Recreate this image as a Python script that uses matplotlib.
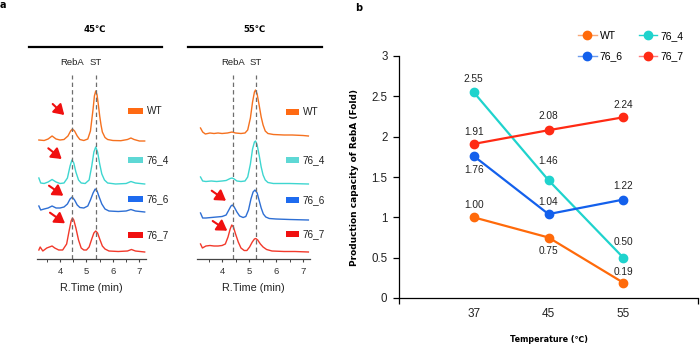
import matplotlib
matplotlib.use('Agg')
import matplotlib.pyplot as plt
from matplotlib.lines import Line2D
from matplotlib.patches import Rectangle

plt.rcParams['font.family'] = ['Liberation Sans', 'DejaVu Sans']

# ---------------- Panel b data ----------------
temps = ['37', '45', '55']
wt_fold = [1.00, 0.75, 0.19]
m76_4_fold = [2.55, 1.46, 0.50]
m76_6_fold = [1.76, 1.04, 1.22]
m76_7_fold = [1.91, 2.08, 2.24]

# ---------------- Panel a data (chromatograms, relative signal) ----------------
# 45 C
t_wt_45 = [3.2, 3.4, 3.55, 3.7, 3.85, 4.0, 4.15, 4.3, 4.4, 4.47, 4.55, 4.65, 4.75, 4.9, 5.05, 5.15,
           5.25, 5.3, 5.35, 5.4, 5.45, 5.5, 5.55, 5.6, 5.7, 5.8, 6.0, 6.3, 6.55, 6.68, 6.8, 7.0, 7.2]
s_wt_45 = [1, 0.5, 2, 5, 2, 1, 1.5, 5, 10, 12, 10, 5, 1.5, 0.5, 2, 10,
           32, 45, 50, 46, 36, 25, 16, 9, 3.5, 1.5, 0.5, 0.3, 1.5, 3, 1.5, 0, 0]
t_76_4_45 = [3.2, 3.27, 3.4, 3.55, 3.7, 3.85, 4.0, 4.15, 4.28, 4.38, 4.45, 4.52, 4.6, 4.7, 4.8, 4.95,
             5.1, 5.2, 5.28, 5.35, 5.42, 5.5, 5.58, 5.68, 5.8, 6.1, 6.5, 6.68, 6.85, 7.2]
s_76_4_45 = [6, 1, 0.5, 2, 4.5, 2, 0.5, 1, 6, 18, 24, 21, 12, 4, 1, 0.5,
             4, 18, 32, 37, 32, 20, 10, 4, 1, 0, 0.5, 2.5, 1, 0]
t_76_6_45 = [3.2, 3.27, 3.4, 3.55, 3.7, 3.85, 4.0, 4.15, 4.28, 4.38, 4.46, 4.55, 4.65, 4.75, 4.9, 5.05,
             5.15, 5.25, 5.33, 5.4, 5.48, 5.58, 5.7, 5.85, 6.2, 6.5, 6.68, 6.85, 7.2]
s_76_6_45 = [6, 2, 3, 4, 6, 4, 4, 5, 8, 13, 15, 12, 7, 4.5, 4, 6,
             12, 19, 23, 21, 15, 8, 3, 1, 0.5, 1, 2.5, 1, 0]
t_76_7_45 = [3.2, 3.25, 3.35, 3.5, 3.7, 3.8, 3.95, 4.1, 4.25, 4.35, 4.42, 4.47, 4.52, 4.6, 4.7, 4.8,
             4.9, 5.0, 5.1, 5.2, 5.28, 5.35, 5.42, 5.5, 5.6, 5.7, 5.85, 6.2, 6.55, 6.7, 6.85, 7.2]
s_76_7_45 = [2, 5, 1, 4, 6, 4, 2, 2, 8, 22, 31, 34, 32, 24, 12, 4,
             2, 2, 5, 13, 19, 21, 19, 13, 6, 3, 1, 0.5, 1, 2.5, 1, 0]
# 55 C
t_wt_55 = [3.2, 3.28, 3.38, 3.55, 3.7, 3.85, 4.0, 4.2, 4.37, 4.5, 4.7, 4.85, 4.95, 5.05, 5.13, 5.2,
           5.24, 5.3, 5.38, 5.45, 5.52, 5.6, 5.7, 5.9, 6.3, 6.6, 7.0, 7.2]
s_wt_55 = [8, 4, 2, 3, 2.5, 3, 2.5, 3, 4, 3, 2.5, 3, 6, 18, 34, 44,
           46, 42, 30, 19, 11, 5, 2.5, 1.5, 1, 1, 0.5, 0]
t_76_4_55 = [3.2, 3.28, 3.4, 3.6, 3.8, 4.0, 4.15, 4.3, 4.37, 4.45, 4.55, 4.7, 4.85, 4.95, 5.05, 5.13,
             5.2, 5.24, 5.3, 5.38, 5.45, 5.52, 5.6, 5.7, 5.9, 6.5, 7.2]
s_76_4_55 = [7, 3, 2.5, 3, 2.5, 3, 3.5, 5.5, 6, 5, 3, 2.5, 3, 7, 20, 35,
             42, 43, 39, 28, 17, 9, 4, 1.5, 0.5, 0.5, 0]
t_76_6_55 = [3.2, 3.28, 3.4, 3.6, 3.8, 4.0, 4.15, 4.25, 4.33, 4.38, 4.45, 4.55, 4.65, 4.78, 4.88, 4.98,
             5.07, 5.15, 5.22, 5.3, 5.38, 5.45, 5.53, 5.62, 5.75, 6.0, 6.5, 7.2]
s_76_6_55 = [7, 2, 2, 2.5, 3, 3.5, 5, 10, 14, 15, 13, 8, 4, 2.5, 3.5, 10,
             21, 28, 30, 27, 19, 12, 6, 3, 1.5, 1, 0.5, 0]
t_76_7_55 = [3.2, 3.27, 3.4, 3.55, 3.7, 3.85, 4.0, 4.12, 4.22, 4.3, 4.36, 4.42, 4.5, 4.6, 4.7, 4.82,
             4.92, 5.02, 5.12, 5.2, 5.25, 5.32, 5.42, 5.52, 5.65, 5.85, 6.3, 6.7, 7.2]
s_76_7_55 = [8, 4, 6, 6.5, 6, 6, 6.5, 8, 15, 23, 27, 25, 18, 10, 4, 1.5,
             1.5, 5, 10, 13, 13.5, 12, 8, 5, 2.5, 1, 0.5, 0.5, 0]

rt_45 = [4.45, 5.35]   # RebA, ST retention times
rt_55 = [4.41, 5.26]
peak_names = ['RebA', 'ST']
series_names = ['WT', '76_4', '76_6', '76_7']

# ---------------- styling ----------------
W, H = 700, 348
fig = plt.figure(figsize=(7, 3.48), dpi=100)

def fx(px):
    return px / W

def fy(py):
    return 1 - py / H

trace_cols = ['#F5711F', '#3ED6D0', '#2E6FD4', '#F2392B']
rect_cols = ['#FF6A13', '#5ED8D5', '#1E6BEF', '#F01010']
b_cols = ['#FF6A0A', '#1FD3CD', '#1360EC', '#FF2A14']
b_leg_line = ['#F8A878', '#1FD3CD', '#6E9CEC', '#FF7A7A']

def panel_a(left_px, right_px, xlim, traces, offsets, rts, rect_x, text_x, rect_y, arrows):
    ax = fig.add_axes([fx(left_px), fy(259), fx(right_px - left_px), 199 / H])
    ax.set_xlim(*xlim)
    ax.set_ylim(0, 199)
    for (t, s), off, c in zip(traces, offsets, trace_cols):
        ax.plot(t, [off + v for v in s], color=c, lw=1.0, solid_joinstyle='round')
    for rt, name in zip(rts, peak_names):
        ax.axvline(rt, ymin=0, ymax=184 / 199, color='#6E6E6E', ls=(0, (3.5, 2.5)), lw=0.9)
        ax.text(rt, 196, name, ha='center', va='center', fontsize=6.8, color='#222222')
    for sp in ['left', 'right', 'top']:
        ax.spines[sp].set_visible(False)
    ax.spines['bottom'].set_color('#444444')
    ax.spines['bottom'].set_linewidth(0.9)
    ax.set_yticks([])
    ax.set_xticks([4, 5, 6, 7])
    ax.set_xticks([3.5, 4.5, 5.5, 6.5], minor=True)
    ax.tick_params(axis='x', which='major', length=2.5, width=0.8, color='#444444',
                   labelsize=6.8, labelcolor='#333333', pad=3.5)
    ax.tick_params(axis='x', which='minor', length=1.8, width=0.7, color='#444444')
    ax.set_xlabel('R.Time (min)', fontsize=7.8, color='#222222', labelpad=5)
    # legend rectangles
    for ry, name, c in zip(rect_y, series_names, rect_cols):
        fig.patches.append(Rectangle((fx(rect_x[0]), fy(ry + 3)), fx(rect_x[1] - rect_x[0]), 6 / H,
                                     transform=fig.transFigure, color=c, lw=0))
        fig.text(fx(text_x), fy(ry), name, ha='left', va='center', fontsize=7.2, color='#222222')
    for (x0, y0, x1, y1) in arrows:
        ax.annotate('', xy=(fx(x1), fy(y1)), xytext=(fx(x0), fy(y0)),
                    xycoords='figure fraction', textcoords='figure fraction',
                    arrowprops=dict(arrowstyle='-|>,head_length=0.6,head_width=0.38',
                                    color='#F01010', lw=1.5, shrinkA=0, shrinkB=0,
                                    mutation_scale=10))
    return ax

traces45 = [(t_wt_45, s_wt_45), (t_76_4_45, s_76_4_45), (t_76_6_45, s_76_6_45), (t_76_7_45, s_76_7_45)]
traces55 = [(t_wt_55, s_wt_55), (t_76_4_55, s_76_4_55), (t_76_6_55, s_76_6_55), (t_76_7_55, s_76_7_55)]

panel_a(37, 146, (3.13, 7.25), traces45, [118, 75, 47, 7], rt_45,
        (128, 143), 147, [111, 160, 199, 235],
        [(52.7, 104, 64.3, 115), (48.3, 148.3, 61.7, 159),
         (49, 185.7, 63.3, 195.7), (50, 212.7, 65, 223.3)])
panel_a(197, 310, (3.07, 7.26), traces55, [123, 75, 39, 7], rt_55,
        (286, 299), 303, [112, 160, 200, 234],
        [(211.7, 190.7, 226, 200.7), (212.7, 221, 227.3, 230.7)])

# titles and bars of panel a
for (x0, x1, xc, label) in [(29, 162, 95, '45℃'), (188, 322, 255, '55℃')]:
    fig.add_artist(Line2D([fx(x0), fx(x1)], [fy(47), fy(47)], color='black', lw=1.6,
                          transform=fig.transFigure))
    fig.text(fx(xc), fy(29), label, ha='center', va='center', fontsize=6.2, fontweight='bold',
             family=['DejaVu Sans'])

fig.text(fx(3), fy(5), 'a', ha='center', va='center', fontsize=7, fontweight='bold', family=['DejaVu Sans'])
fig.text(fx(359), fy(8), 'b', ha='center', va='center', fontsize=7, fontweight='bold', family=['DejaVu Sans'])

# ---------------- Panel b ----------------
axb = fig.add_axes([fx(399), fy(298), fx(299), 242 / H])
xpos = [1, 2, 3]
series_b = [wt_fold, m76_4_fold, m76_6_fold, m76_7_fold]
label_off = [[12, -13, 11], [13, 19, 16], [-14, 12, 14], [12, 14, 12]]
handles = []
for vals, name, c, lc, offs in zip(series_b, series_names, b_cols, b_leg_line, label_off):
    axb.plot(xpos, vals, color=c, lw=1.6, marker='o', ms=6, mec=c, mfc=c, zorder=3)
    handles.append(Line2D([], [], color=lc, lw=1.0, marker='o', ms=6, mec=c, mfc=c, label=name))
    for x, v, o in zip(xpos, vals, offs):
        axb.annotate(f'{v:.2f}', (x, v), xytext=(0, o), textcoords='offset pixels',
                     ha='center', va='center', fontsize=7.3, color='#222222')
axb.set_xlim(0, 4)
axb.set_ylim(0, 3)
axb.set_yticks([0, 0.5, 1, 1.5, 2, 2.5, 3])
axb.set_yticklabels(['0', '0.5', '1', '1.5', '2', '2.5', '3'])
axb.set_xticks(xpos)
axb.set_xticklabels(temps)
axb.set_xticks([0, 4], minor=True)
axb.tick_params(axis='x', which='major', length=0, labelsize=8.5, pad=7, labelcolor='#222222')
axb.tick_params(axis='x', which='minor', length=4, width=0.9)
axb.tick_params(axis='y', length=4.3, width=0.9, labelsize=8.3, pad=4, labelcolor='#222222')
for sp in ['right', 'top']:
    axb.spines[sp].set_visible(False)
for sp in ['left', 'bottom']:
    axb.spines[sp].set_linewidth(0.9)
axb.set_ylabel('Production capacity of RebA (Fold)', fontsize=6.5, fontweight='bold',
               family=['DejaVu Sans'], labelpad=9)
axb.set_xlabel('Temperature (℃)', fontsize=5.8, fontweight='bold', family=['DejaVu Sans'],
               labelpad=11)
order = [0, 2, 1, 3]
axb.legend([handles[i] for i in order], [series_names[i] for i in order], ncol=2,
           loc='upper left', bbox_to_anchor=(fx(578), fy(31)), bbox_transform=fig.transFigure,
           frameon=False, fontsize=7.5, handlelength=1.8, handletextpad=0.3,
           columnspacing=1.5, labelspacing=1.0, borderpad=0, borderaxespad=0)

fig.savefig('out.png', dpi=100)
